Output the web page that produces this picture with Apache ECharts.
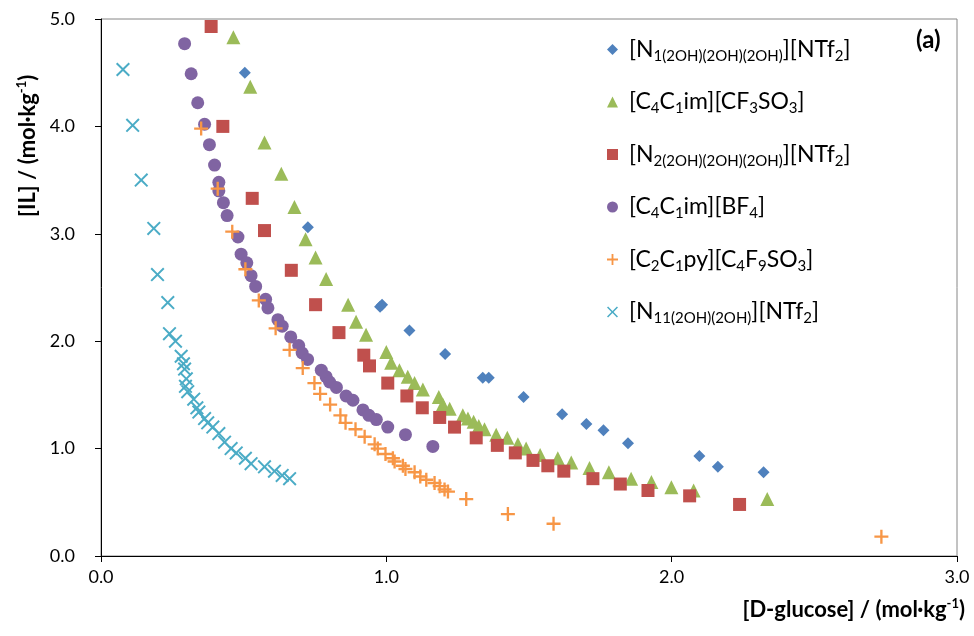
<!DOCTYPE html>
<html>
<head>
<meta charset="utf-8">
<script src="https://cdn.jsdelivr.net/npm/echarts@6/dist/echarts.min.js"></script>
<style>
  html, body { margin: 0; padding: 0; background: #fff; }
  #chart { width: 974px; height: 636px; }
</style>
</head>
<body>
<div id="chart"></div>
<script>
// [D-glucose], [IL] pairs (mol/kg)
const n1_2oh3 = [[0.504,4.50],[0.725,3.06],[0.978,2.32],[0.985,2.34],[1.081,2.10],[1.206,1.88],[1.338,1.66],[1.359,1.66],
  [1.481,1.48],[1.616,1.32],[1.701,1.23],[1.761,1.17],[1.847,1.05],[2.097,0.93],[2.162,0.83],[2.322,0.78]];

const c4c1im_cf3so3 = [[0.464,4.83],[0.523,4.37],[0.573,3.85],[0.632,3.56],[0.678,3.25],[0.717,2.95],[0.752,2.78],[0.789,2.58],
  [0.866,2.34],[0.894,2.18],[0.929,2.06],[1.000,1.90],[1.017,1.80],[1.046,1.73],[1.075,1.67],[1.099,1.61],[1.128,1.55],
  [1.184,1.48],[1.198,1.41],[1.222,1.37],[1.268,1.31],[1.286,1.28],[1.306,1.25],[1.324,1.21],[1.344,1.18],[1.385,1.13],
  [1.424,1.10],[1.461,1.04],[1.490,1.00],[1.539,0.94],[1.601,0.91],[1.648,0.87],[1.712,0.82],[1.780,0.78],[1.858,0.72],
  [1.929,0.69],[1.999,0.64],[2.077,0.61],[2.335,0.53]];

const n2_2oh3 = [[0.386,4.93],[0.427,4.00],[0.530,3.33],[0.573,3.03],[0.667,2.66],[0.752,2.34],[0.834,2.08],[0.921,1.87],
  [0.941,1.77],[1.005,1.61],[1.072,1.49],[1.126,1.38],[1.187,1.29],[1.239,1.20],[1.315,1.10],[1.389,1.03],[1.452,0.96],
  [1.514,0.89],[1.566,0.84],[1.622,0.79],[1.724,0.72],[1.820,0.67],[1.917,0.61],[2.063,0.56],[2.238,0.48]];

const c4c1im_bf4 = [[0.293,4.77],[0.316,4.49],[0.339,4.22],[0.363,4.02],[0.380,3.83],[0.398,3.64],[0.413,3.48],[0.413,3.40],
  [0.429,3.29],[0.442,3.17],[0.480,2.97],[0.491,2.81],[0.511,2.73],[0.526,2.61],[0.542,2.51],[0.577,2.39],[0.585,2.31],
  [0.620,2.20],[0.635,2.14],[0.665,2.04],[0.693,1.96],[0.705,1.89],[0.724,1.83],[0.772,1.73],[0.789,1.67],[0.801,1.62],
  [0.825,1.57],[0.859,1.49],[0.883,1.45],[0.918,1.36],[0.939,1.31],[0.965,1.27],[1.005,1.20],[1.067,1.13],[1.163,1.02]];

const c2c1py_c4f9so3 = [[0.351,3.98],[0.409,3.42],[0.460,3.02],[0.506,2.67],[0.553,2.38],[0.612,2.12],[0.661,1.92],[0.707,1.75],
  [0.748,1.61],[0.768,1.51],[0.803,1.41],[0.839,1.31],[0.857,1.24],[0.892,1.18],[0.924,1.11],[0.959,1.04],[0.970,1.00],
  [0.997,0.95],[1.023,0.91],[1.029,0.88],[1.058,0.84],[1.067,0.81],[1.099,0.78],[1.119,0.74],[1.140,0.71],[1.169,0.68],
  [1.187,0.65],[1.204,0.62],[1.216,0.60],[1.280,0.53],[1.426,0.39],[1.586,0.30],[2.735,0.18]];

const n11_2oh2 = [[0.077,4.53],[0.111,4.01],[0.141,3.50],[0.185,3.05],[0.198,2.62],[0.234,2.36],[0.240,2.07],[0.261,2.00],
  [0.281,1.86],[0.289,1.79],[0.293,1.74],[0.299,1.65],[0.296,1.58],[0.304,1.53],[0.325,1.46],[0.336,1.38],[0.343,1.34],
  [0.363,1.28],[0.374,1.24],[0.392,1.20],[0.413,1.14],[0.433,1.06],[0.456,1.00],[0.474,0.96],[0.506,0.91],[0.526,0.86],
  [0.573,0.83],[0.608,0.79],[0.635,0.75],[0.661,0.72]];

const xTicks = { min: 0, max: 3, step: 1 };
const yTicks = { min: 0, max: 5, step: 1 };

// legend text with subscripts as rich text
const legendNames = {
  'N1(2OH)(2OH)(2OH) NTf2': '{g|}{t|[N}{s|1(2OH)(2OH)(2OH)}{t|][NTf}{s|2}{t|]}',
  'C4C1im CF3SO3': '{g|}{t|[C}{s|4}{t|C}{s|1}{t|im][CF}{s|3}{t|SO}{s|3}{t|]}',
  'N2(2OH)(2OH)(2OH) NTf2': '{g|}{t|[N}{s|2(2OH)(2OH)(2OH)}{t|][NTf}{s|2}{t|]}',
  'C4C1im BF4': '{g|}{t|[C}{s|4}{t|C}{s|1}{t|im][BF}{s|4}{t|]}',
  'C2C1py C4F9SO3': '{g|}{t|[C}{s|2}{t|C}{s|1}{t|py][C}{s|4}{t|F}{s|9}{t|SO}{s|3}{t|]}',
  'N11(2OH)(2OH) NTf2': '{g|}{t|[N}{s|11(2OH)(2OH)}{t|][NTf}{s|2}{t|]}'
};

const plusPath = 'path://M5,0H7V5H12V7H7V12H5V7H0V5H5Z';
const crossPath = 'path://M0,1.2L1.2,0L6,4.8L10.8,0L12,1.2L7.2,6L12,10.8L10.8,12L6,7.2L1.2,12L0,10.8L4.8,6Z';

const font = 'Lato, "Open Sans", sans-serif';

function scatter(name, data, symbol, size, color) {
  return {
    name: name,
    type: 'scatter',
    data: data,
    symbol: symbol,
    symbolSize: size,
    itemStyle: { color: color, opacity: 1 },
    emphasis: { disabled: true }
  };
}

const chart = echarts.init(document.getElementById('chart'));
chart.setOption({
  animation: false,
  textStyle: { fontFamily: font },
  grid: {
    left: 101, right: 17, top: 19, bottom: 80,
    show: true, borderColor: '#868686', borderWidth: 1
  },
  legend: {
    orient: 'vertical',
    left: 602,
    top: 33,
    itemGap: 27,
    itemWidth: 11,
    itemHeight: 11,
    formatter: function (name) { return legendNames[name]; },
    textStyle: {
      rich: {
        g: { width: 6, lineHeight: 28 },
        t: { fontSize: 23, color: '#000', fontFamily: font, lineHeight: 28 },
        s: { fontSize: 15, color: '#000', fontFamily: font, lineHeight: 14, verticalAlign: 'bottom' }
      }
    },
    selectedMode: false
  },
  xAxis: {
    type: 'value',
    min: xTicks.min, max: xTicks.max, interval: xTicks.step,
    axisLine: { lineStyle: { color: '#000', width: 1 } },
    axisTick: { show: true, inside: false, length: 6, lineStyle: { color: '#000' } },
    axisLabel: { color: '#000', fontSize: 18, margin: 12, formatter: v => v.toFixed(1) },
    splitLine: { show: false }
  },
  yAxis: {
    type: 'value',
    min: yTicks.min, max: yTicks.max, interval: yTicks.step,
    axisLine: { show: true, lineStyle: { color: '#000', width: 1 } },
    axisTick: { show: true, inside: false, length: 6, lineStyle: { color: '#000' } },
    axisLabel: { color: '#000', fontSize: 18, margin: 26, formatter: v => v.toFixed(1) },
    splitLine: { show: false }
  },
  graphic: [
    {
      type: 'text', left: 916, top: 28,
      style: { text: '(a)', font: 'bold 24px ' + font, fill: '#000' }
    },
    {
      type: 'text', x: 15, y: 217, rotation: Math.PI / 2,
      style: {
        text: '{b|[IL] / (mol·kg}{p|-1}{b|)}',
        rich: {
          b: { fontSize: 22, fontWeight: 'bold', fontFamily: font, fill: '#000', lineHeight: 26 },
          p: { fontSize: 13, fontWeight: 'bold', fontFamily: font, fill: '#000', lineHeight: 13, verticalAlign: 'top' }
        }
      }
    },
    {
      type: 'text', right: 9, top: 597,
      style: {
        text: '{b|[D-glucose] / (mol·kg}{p|-1}{b|)}',
        rich: {
          b: { fontSize: 22, fontWeight: 'bold', fontFamily: font, fill: '#000', lineHeight: 26 },
          p: { fontSize: 13, fontWeight: 'bold', fontFamily: font, fill: '#000', lineHeight: 13, verticalAlign: 'top' }
        }
      }
    }
  ],
  series: [
    scatter('N1(2OH)(2OH)(2OH) NTf2', n1_2oh3, 'diamond', 12, '#4F81BD'),
    scatter('C4C1im CF3SO3', c4c1im_cf3so3, 'triangle', 14, '#9BBB59'),
    scatter('N2(2OH)(2OH)(2OH) NTf2', n2_2oh3, 'rect', 13, '#C0504D'),
    scatter('C4C1im BF4', c4c1im_bf4, 'circle', 13, '#8064A2'),
    scatter('C2C1py C4F9SO3', c2c1py_c4f9so3, plusPath, 14, '#F79646'),
    scatter('N11(2OH)(2OH) NTf2', n11_2oh2, crossPath, 14, '#4BACC6')
  ]
});
</script>
</body>
</html>
